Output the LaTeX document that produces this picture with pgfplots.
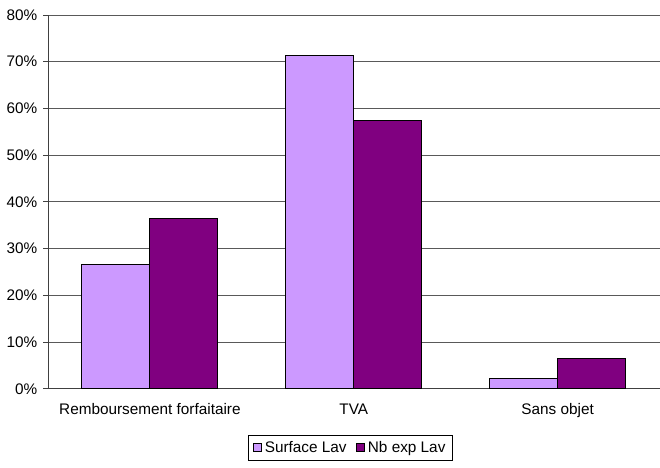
\documentclass[border=0pt]{standalone}
\usepackage{pgfplots}
\pgfplotsset{compat=1.18}
\usepackage{fontspec}
\setmainfont{Liberation Sans}
\definecolor{lav}{HTML}{CC99FF}
\definecolor{plum}{HTML}{800080}
\begin{document}
\begin{tikzpicture}
\begin{axis}[
  scale only axis,
  width=459pt, height=280.5pt,
  xmin=-0.5, xmax=2.5,
  ymin=0, ymax=80,
  ytick={0,10,...,80},
  yticklabel={\pgfmathprintnumber{\tick}\%},
  /pgf/number format/assume math mode=true,
  ymajorgrids,
  grid style={draw=black!65, line width=0.6pt},
  axis x line*=bottom,
  axis y line*=left,
  axis line style={draw=black!75, line width=0.6pt, -},
  xtick={0,1,2},
  xticklabels={Remboursement forfaitaire, TVA, Sans objet},
  x tick style={draw=none},
  extra x ticks={0.5,1.5},
  extra x tick labels={},
  extra x tick style={major tick length=3.5pt, tick style={draw=black!75, line width=0.6pt}, grid=none},
  y tick style={draw=black!75, line width=0.6pt},
  major tick length=3.5pt,
  tick align=outside,
  ticklabel style={font=\fontsize{11.5}{13}\selectfont},
  yticklabel style={xshift=-1pt},
  xticklabel style={yshift=-4pt},
  ybar, bar width=51pt,
  legend columns=2,
  legend style={at={(227pt,-44.25pt)}, anchor=center, draw=black, line width=0.6pt,
    font=\fontsize{11.5}{13}\selectfont, inner xsep=3pt, inner ysep=2.5pt,
    /tikz/every even column/.append style={column sep=5pt}},
  legend image code/.code={\draw[#1, line width=0.75pt] (0cm,-0.11cm) rectangle (0.22cm,0.11cm);},
]
\addplot[fill=lav, draw=black, line width=0.75pt, bar shift=-25.5pt] coordinates {(0,26.5) (1,71.4) (2,2.1)};
\addplot[fill=plum, draw=black, line width=0.75pt, bar shift=25.5pt] coordinates {(0,36.4) (1,57.4) (2,6.4)};
\legend{Surface Lav, Nb exp Lav}
\end{axis}
\useasboundingbox (-36pt,-59.25pt) rectangle (459pt,291.75pt);
\end{tikzpicture}
\end{document}
